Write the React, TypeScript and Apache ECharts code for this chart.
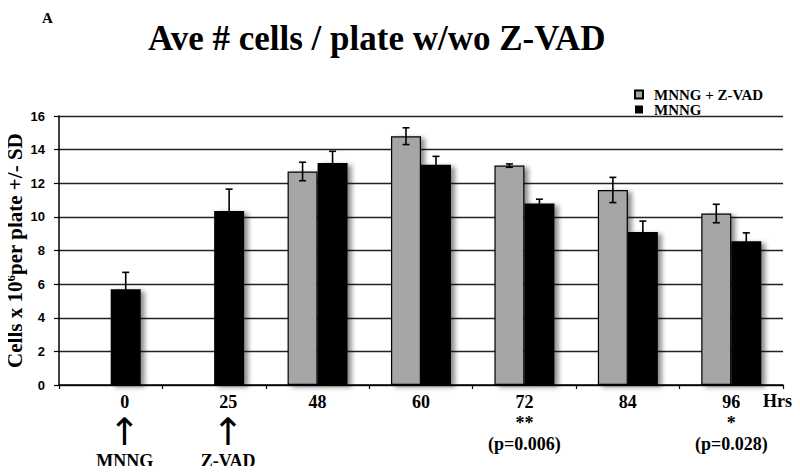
import { useEffect, useRef } from 'react';
import * as echarts from 'echarts';

const categories = ['0', '25', '48', '60', '72', '84', '96'];
const zvadValues: (number | null)[] = [null, null, 12.7, 14.8, 13.05, 11.6, 10.2];
const zvadSD: (number | null)[] = [null, null, 0.55, 0.5, 0.1, 0.75, 0.55];
const mnngValues: number[] = [5.7, 10.35, 13.2, 13.1, 10.8, 9.1, 8.55];
const mnngSD: number[] = [1.0, 1.3, 0.7, 0.5, 0.25, 0.65, 0.5];
const treatments = ['MNNG', 'Z-VAD', '', '', '', '', ''];
const stars = ['', '', '', '', '**', '', '*'];
const pValues = ['', '', '', '', '(p=0.006)', '', '(p=0.028)'];
const yMin = 0;
const yMax = 16;
const yInterval = 2;

const SERIF = 'Liberation Serif';
const SANS = 'Liberation Sans';
const BAR_W = 30;

function errData(values: (number | null)[], sd: (number | null)[]) {
  const out: number[][] = [];
  values.forEach((v, i) => {
    const s = sd[i];
    if (v != null && s != null) out.push([i, v - s, v + s]);
  });
  return out;
}

function errSeries(name: string, values: (number | null)[], sd: (number | null)[], side: number) {
  return {
    type: 'custom',
    name: name + ' SD',
    z: 10,
    silent: true,
    encode: { x: 0, y: [1, 2] },
    data: errData(values, sd),
    renderItem: (_params: any, api: any) => {
      const idx = api.value(0);
      const lo = api.coord([idx, api.value(1)]);
      const hi = api.coord([idx, api.value(2)]);
      const x = lo[0] + side * BAR_W / 2;
      const cap = 3.5;
      const style = { stroke: '#000', lineWidth: 1.6, fill: 'none' };
      return {
        type: 'group',
        children: [
          { type: 'line', shape: { x1: x, y1: lo[1], x2: x, y2: hi[1] }, style },
          { type: 'line', shape: { x1: x - cap, y1: hi[1], x2: x + cap, y2: hi[1] }, style },
          { type: 'line', shape: { x1: x - cap, y1: lo[1], x2: x + cap, y2: lo[1] }, style },
        ],
      };
    },
  };
}

export default function App() {
  const ref = useRef<HTMLDivElement>(null);
  useEffect(() => {
    if (!ref.current) return;
    const chart = echarts.init(ref.current, null, { renderer: 'svg' });
    const shadow = { shadowBlur: 5, shadowOffsetX: 4, shadowOffsetY: 2, shadowColor: 'rgba(0,0,0,0.45)' };
    const shift = [0, 0, 0, 28];
    chart.setOption({
      animation: false,
      backgroundColor: '#fff',
      title: [
        {
          text: 'Ave # cells / plate w/wo Z-VAD',
          left: 143,
          top: 16,
          textStyle: { fontFamily: SERIF, fontWeight: 'bold', fontSize: 35, color: '#000' },
        },
        {
          text: 'A',
          left: 37,
          top: 5,
          textStyle: { fontFamily: SERIF, fontWeight: 'bold', fontSize: 15, color: '#000' },
        },
      ],
      legend: {
        orient: 'vertical',
        left: 629,
        top: 82,
        icon: 'rect',
        itemWidth: 8,
        itemHeight: 8,
        itemGap: 0,
        data: ['MNNG + Z-VAD', 'MNNG'],
        itemStyle: { shadowBlur: 0, shadowOffsetX: 0, shadowOffsetY: 0 },
        textStyle: {
          fontFamily: SERIF,
          fontWeight: 'bold',
          fontSize: 15,
          lineHeight: 13,
          color: '#000',
          padding: [0, 0, 0, 6],
        },
      },
      graphic: [
        {
          type: 'text',
          left: 763,
          top: 392,
          style: { text: 'Hrs', fontFamily: SERIF, fontWeight: 'bold', fontSize: 18, fill: '#000' },
        },
      ],
      grid: { left: 59, right: 17, top: 116, bottom: 89, outerBoundsMode: 'none', containLabel: false },
      xAxis: {
        type: 'category',
        data: categories,
        axisLine: { lineStyle: { color: '#000', width: 1.5 } },
        axisTick: { show: true, length: 4, lineStyle: { color: '#000', width: 1.2 } },
        axisLabel: {
          margin: 6,
          interval: 0,
          color: '#000',
          formatter: (value: string, index: number) => {
            if (treatments[index]) return `{vs|${value}}\n{arr|↑}\n{b|${treatments[index]}}`;
            if (stars[index]) return `{v|${value}}\n{v|${stars[index]}}\n{v|${pValues[index]}}`;
            return `{v|${value}}`;
          },
          rich: {
            v: { fontFamily: SERIF, fontWeight: 'bold', fontSize: 18, lineHeight: 21, color: '#000' },
            vs: { fontFamily: SERIF, fontWeight: 'bold', fontSize: 18, lineHeight: 21, color: '#000', padding: shift },
            b: { fontFamily: SERIF, fontWeight: 'bold', fontSize: 18, lineHeight: 18, color: '#000', padding: shift },
            arr: { fontFamily: 'DejaVu Sans', fontSize: 38, lineHeight: 40, color: '#000', padding: shift },
          },
        },
      },
      yAxis: {
        type: 'value',
        min: yMin,
        max: yMax,
        interval: yInterval,
        name: 'Cells x 10{sup|6}per plate +/- SD',
        nameLocation: 'middle',
        nameGap: 34,
        nameMoveOverlap: false,
        nameTextStyle: {
          fontFamily: SERIF,
          fontWeight: 'bold',
          fontSize: 21,
          color: '#000',
          rich: {
            sup: { fontFamily: SERIF, fontWeight: 'bold', fontSize: 13, verticalAlign: 'top', padding: [0, 0, 8, 0], color: '#000' },
          },
        },
        axisLine: { show: true, lineStyle: { color: '#000', width: 1.5 } },
        axisTick: { show: true, length: 5, lineStyle: { color: '#000', width: 1.2 } },
        axisLabel: { margin: 14, fontFamily: SANS, fontWeight: 'bold', fontSize: 13, color: '#000' },
        splitLine: { lineStyle: { color: '#222', width: 1.3 } },
      },
      series: [
        {
          name: 'MNNG + Z-VAD',
          type: 'bar',
          barWidth: BAR_W,
          barGap: '0%',
          data: zvadValues,
          itemStyle: { color: '#a6a6a6', borderColor: '#000', borderWidth: 1.2, ...shadow },
        },
        {
          name: 'MNNG',
          type: 'bar',
          barWidth: BAR_W,
          barGap: '0%',
          data: mnngValues,
          itemStyle: { color: '#000', ...shadow },
        },
        errSeries('MNNG + Z-VAD', zvadValues, zvadSD, -1),
        errSeries('MNNG', mnngValues, mnngSD, 1),
      ],
    });
    return () => chart.dispose();
  }, []);
  return <div ref={ref} style={{ width: 800, height: 474, margin: -8 }} />;
}
